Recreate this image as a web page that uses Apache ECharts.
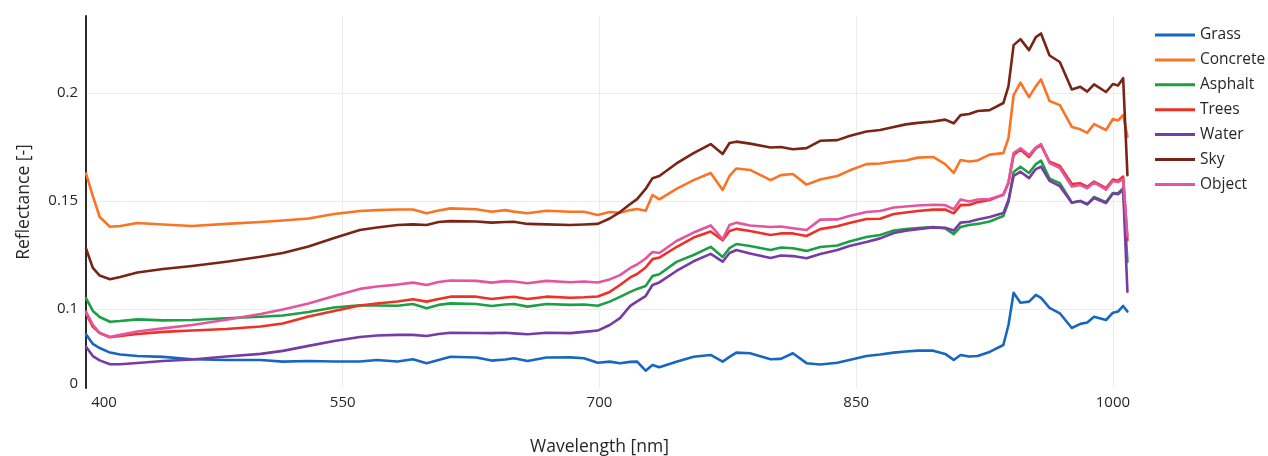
<!DOCTYPE html>
<html>
<head>
<meta charset="utf-8">
<title>Reflectance spectra</title>
<script src="https://cdn.jsdelivr.net/npm/echarts/dist/echarts.min.js"></script>
<style>
  html, body { margin: 0; padding: 0; background: #ffffff; }
  #chart { width: 1268px; height: 456px; }
</style>
</head>
<body>
<div id="chart"></div>
<script>
// Wavelength samples [nm]
const wavelength = [400,404,408,414,420,430,445,462,482,502,515,530,545,560,570,582,591,599,606,613,
  628,637,645,650,658,669,683,691,699,706,712,718,722,727,731,735,745,755,765,772,
  776,780,788,800,806,813,821,829,839,846,856,864,872,879,886,895,902,907,911,916,
  921,928,936,939,942,946,951,955,958,963,969,976,981,985,989,996,1000,1003,1006,1008.5];

// Reflectance per surface class [-]
const grass = [.0883,.0838,.0819,.0798,.0789,.0782,.0778,.0767,.0764,.0764,.0756,.0759,.0757,.0757,.0764,.0757,.0767,.0749,.0764,.0779,
  .0775,.0761,.0766,.0772,.0759,.0775,.0776,.0772,.0751,.0756,.0749,.0755,.0756,.0714,.0741,.0730,.0756,.0779,.0787,.0756,
  .0778,.0798,.0795,.0767,.0769,.0795,.0749,.0743,.0751,.0764,.0782,.0789,.0798,.0803,.0807,.0807,.0792,.0764,.0787,.0780,
  .0782,.0801,.0833,.0926,.1075,.1029,.1034,.1065,.1051,.1005,.0980,.0912,.0931,.0937,.0964,.0949,.0983,.0988,.1014,.0988];

const concrete = [.1628,.1523,.1426,.1381,.1384,.1398,.1391,.1384,.1394,.1403,.1410,.1419,.1440,.1454,.1458,.1461,.1461,.1443,.1456,.1466,
  .1462,.1450,.1458,.1451,.1443,.1455,.1450,.1450,.1435,.1449,.1446,.1458,.1463,.1455,.1528,.1508,.1556,.1597,.1630,.1551,
  .1616,.1651,.1644,.1597,.1620,.1625,.1576,.1600,.1616,.1641,.1671,.1674,.1683,.1688,.1701,.1704,.1671,.1630,.1690,.1683,
  .1688,.1715,.1722,.1792,.1991,.2048,.1981,.2032,.2063,.1963,.1944,.1843,.1832,.1816,.1856,.1829,.1880,.1873,.1898,.1798];

const asphalt = [.1050,.0991,.0963,.0941,.0944,.0952,.0947,.0949,.0957,.0964,.0970,.0986,.1007,.1017,.1016,.1015,.1023,.1003,.1019,.1026,
  .1023,.1014,.1021,.1023,.1011,.1023,.1019,.1021,.1015,.1034,.1056,.1079,.1093,.1106,.1153,.1161,.1218,.1250,.1288,.1241,
  .1282,.1301,.1292,.1273,.1285,.1281,.1269,.1287,.1294,.1313,.1333,.1343,.1363,.1370,.1375,.1380,.1373,.1347,.1380,.1389,
  .1394,.1405,.1431,.1495,.1634,.1659,.1630,.1671,.1687,.1604,.1583,.1493,.1500,.1485,.1519,.1495,.1537,.1536,.1559,.1218];

const trees = [.0980,.0917,.0889,.0869,.0875,.0884,.0894,.0900,.0907,.0919,.0933,.0965,.0991,.1016,.1025,.1035,.1045,.1034,.1046,.1057,
  .1057,.1046,.1053,.1057,.1046,.1057,.1052,.1054,.1058,.1079,.1111,.1146,.1162,.1192,.1231,.1238,.1287,.1331,.1359,.1318,
  .1361,.1371,.1361,.1343,.1350,.1350,.1338,.1370,.1383,.1398,.1417,.1418,.1440,.1447,.1454,.1460,.1461,.1443,.1481,.1482,
  .1495,.1505,.1530,.1583,.1713,.1739,.1704,.1745,.1758,.1682,.1662,.1579,.1582,.1566,.1590,.1560,.1600,.1594,.1613,.1319];

const water = [.0825,.0782,.0762,.0744,.0744,.0750,.0759,.0766,.0780,.0792,.0806,.0829,.0852,.0870,.0877,.0880,.0880,.0875,.0884,.0890,
  .0889,.0888,.0890,.0887,.0883,.0890,.0888,.0894,.0900,.0926,.0958,.1014,.1035,.1060,.1111,.1123,.1176,.1221,.1255,.1219,
  .1259,.1273,.1257,.1236,.1248,.1245,.1235,.1255,.1273,.1292,.1310,.1327,.1352,.1363,.1370,.1378,.1376,.1363,.1400,.1404,
  .1414,.1426,.1444,.1505,.1616,.1636,.1606,.1648,.1659,.1593,.1569,.1492,.1500,.1485,.1514,.1491,.1535,.1532,.1551,.1080];

const sky = [.1281,.1190,.1155,.1138,.1148,.1169,.1185,.1199,.1219,.1242,.1259,.1289,.1329,.1366,.1377,.1389,.1392,.1389,.1403,.1407,
  .1405,.1400,.1403,.1404,.1394,.1392,.1389,.1391,.1394,.1419,.1449,.1486,.1509,.1556,.1606,.1616,.1674,.1722,.1764,.1718,
  .1769,.1775,.1766,.1748,.1750,.1740,.1745,.1779,.1782,.1801,.1822,.1829,.1843,.1855,.1862,.1868,.1877,.1860,.1898,.1903,
  .1917,.1921,.1954,.2032,.2222,.2250,.2199,.2259,.2276,.2174,.2144,.2017,.2029,.2007,.2040,.2005,.2042,.2035,.2069,.1620];

const object = [.0988,.0926,.0889,.0870,.0880,.0896,.0910,.0926,.0950,.0977,.0998,.1025,.1060,.1093,.1104,.1113,.1122,.1111,.1125,.1132,
  .1130,.1122,.1129,.1127,.1119,.1130,.1124,.1127,.1123,.1137,.1157,.1190,.1206,.1234,.1264,.1259,.1315,.1354,.1387,.1323,
  .1389,.1400,.1387,.1380,.1382,.1374,.1366,.1414,.1415,.1431,.1449,.1454,.1470,.1475,.1479,.1483,.1481,.1462,.1507,.1498,
  .1507,.1509,.1528,.1588,.1722,.1744,.1713,.1748,.1764,.1676,.1653,.1567,.1574,.1559,.1586,.1553,.1593,.1588,.1602,.1338];

const seriesNames = ['Grass', 'Concrete', 'Asphalt', 'Trees', 'Water', 'Sky', 'Object'];
const seriesValues = [grass, concrete, asphalt, trees, water, sky, object];
const seriesColors = ['#1767c2', '#fa7425', '#1ba043', '#ee3124', '#773ba6', '#7a2416', '#e4559f'];

// Axis ticks and labels
const xTicks = [400, 550, 700, 850, 1000];
const yGridValues = [0.1, 0.15, 0.2];
const yLabelValues = [0.0655, 0.1, 0.15, 0.2];
const yLabelTexts = ['0', '0.1', '0.15', '0.2'];
const xRange = [400, 1010];
const yRange = [0.0634, 0.2357];

const FONT = '"Open Sans", "DejaVu Sans", sans-serif';
const TEXT = '#262626';

const chart = echarts.init(document.getElementById('chart'), null, { renderer: 'canvas' });

chart.setOption({
  animation: false,
  backgroundColor: '#ffffff',
  textStyle: { fontFamily: FONT },
  grid: { left: 86, top: 16, right: 138, bottom: 68, containLabel: false, outerBoundsMode: 'none' },
  legend: {
    orient: 'vertical',
    left: 1155,
    top: 27,
    padding: 0,
    icon: 'rect',
    itemWidth: 40,
    itemHeight: 3,
    itemGap: 8.9,
    data: seriesNames,
    textStyle: { fontFamily: FONT, fontSize: 15.5, lineHeight: 15, color: TEXT }
  },
  xAxis: {
    type: 'value',
    min: xRange[0],
    max: xRange[1],
    name: 'Wavelength [nm]',
    nameLocation: 'middle',
    nameGap: 50,
    nameTextStyle: { fontFamily: FONT, fontSize: 17.5, color: TEXT, padding: [0, 17, 0, 0] },
    axisLine: { show: false },
    axisTick: { show: false, customValues: xTicks },
    axisLabel: {
      customValues: xTicks,
      fontFamily: FONT,
      fontSize: 15,
      color: TEXT,
      margin: 7,
      formatter: v => (v === xTicks[0] ? '{first|' + v + '}' : String(v)),
      rich: { first: { fontFamily: FONT, fontSize: 15, color: TEXT, padding: [0, 0, 0, 36] } }
    },
    splitLine: { show: true, lineStyle: { color: '#ececec', width: 1 } }
  },
  yAxis: {
    type: 'value',
    min: yRange[0],
    max: yRange[1],
    name: 'Reflectance [-]',
    nameLocation: 'middle',
    nameGap: 53,
    nameTextStyle: { fontFamily: FONT, fontSize: 17.5, color: TEXT },
    axisLine: { show: true, onZero: false, lineStyle: { color: '#2a2a2a', width: 2 } },
    axisTick: { show: false, customValues: yGridValues },
    axisLabel: {
      customValues: yLabelValues,
      fontFamily: FONT,
      fontSize: 15,
      color: TEXT,
      margin: 8,
      formatter: v => {
        const i = yLabelValues.findIndex(t => Math.abs(t - v) < 1e-6);
        return i >= 0 ? yLabelTexts[i] : '';
      }
    },
    splitLine: { show: true, lineStyle: { color: '#ececec', width: 1 } }
  },
  series: seriesNames.map((name, k) => ({
    name: name,
    type: 'line',
    data: wavelength.map((w, i) => [w, seriesValues[k][i]]),
    symbol: 'none',
    showSymbol: false,
    smooth: false,
    color: seriesColors[k],
    lineStyle: { color: seriesColors[k], width: 2.6, join: 'round', cap: 'round' },
    emphasis: { disabled: true }
  }))
});
</script>
</body>
</html>
